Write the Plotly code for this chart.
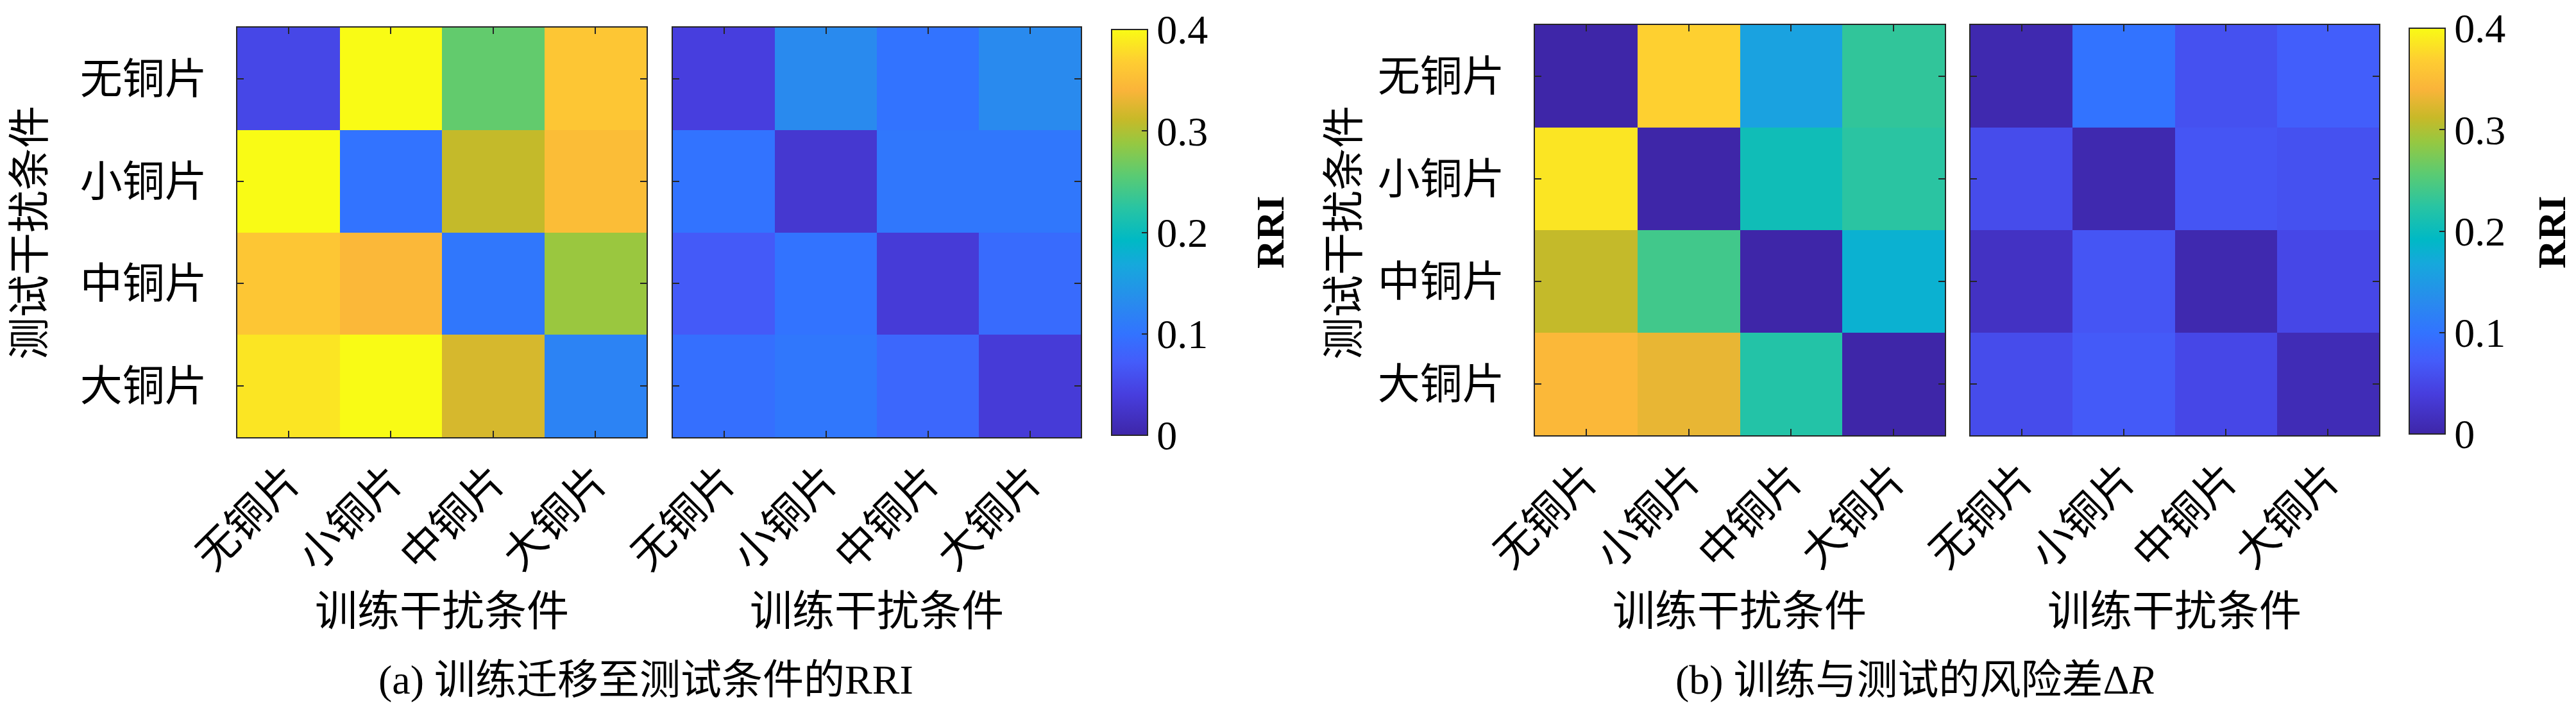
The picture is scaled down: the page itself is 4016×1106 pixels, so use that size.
import plotly.graph_objects as go

# categories (test condition on y, training condition on x)
conditions = ["无铜片", "小铜片", "中铜片", "大铜片"]

# (a) RRI, rows = test condition, cols = training condition
rri_left = [
    [0.050, 0.400, 0.260, 0.360],
    [0.400, 0.100, 0.310, 0.350],
    [0.360, 0.345, 0.105, 0.290],
    [0.385, 0.400, 0.320, 0.120],
]
rri_right = [
    [0.040, 0.130, 0.100, 0.130],
    [0.100, 0.030, 0.105, 0.105],
    [0.070, 0.100, 0.035, 0.090],
    [0.095, 0.105, 0.085, 0.035],
]

# (b) risk difference, same layout
dr_left = [
    [0.000, 0.370, 0.160, 0.230],
    [0.385, 0.000, 0.205, 0.225],
    [0.310, 0.240, 0.000, 0.180],
    [0.345, 0.330, 0.220, 0.000],
]
dr_right = [
    [0.005, 0.100, 0.060, 0.075],
    [0.055, 0.005, 0.065, 0.060],
    [0.020, 0.065, 0.005, 0.050],
    [0.055, 0.070, 0.050, 0.010],
]

cbar_ticks = [0, 0.1, 0.2, 0.3, 0.4]
cbar_text = ["0", "0.1", "0.2", "0.3", "0.4"]

# MATLAB parula (approximation)
parula = [
    [0.00, "rgb(62,38,168)"],
    [0.10, "rgb(71,62,222)"],
    [0.18, "rgb(68,92,250)"],
    [0.25, "rgb(50,115,255)"],
    [0.33, "rgb(40,140,237)"],
    [0.42, "rgb(22,168,220)"],
    [0.48, "rgb(0,185,197)"],
    [0.56, "rgb(40,196,163)"],
    [0.64, "rgb(90,203,115)"],
    [0.72, "rgb(150,200,65)"],
    [0.78, "rgb(200,185,40)"],
    [0.85, "rgb(250,180,58)"],
    [0.92, "rgb(254,205,50)"],
    [1.00, "rgb(249,251,21)"],
]

W, H = 4016, 1106
FONT = "Liberation Serif, Noto Sans CJK SC"
AXC = "#262626"


def px(x):
    return x / W


def py(y):
    return 1 - y / H


fig = go.Figure()

panels = [
    (rri_left, "x", "y", "coloraxis"),
    (rri_right, "x2", "y2", "coloraxis"),
    (dr_left, "x3", "y3", "coloraxis2"),
    (dr_right, "x4", "y4", "coloraxis2"),
]
for z, xa, ya, ca in panels:
    fig.add_trace(
        go.Heatmap(z=z, x=conditions, y=conditions, xaxis=xa, yaxis=ya, coloraxis=ca)
    )

# axis boxes in pixels: (left, right, top, bottom)
boxes = [
    (362, 1000, 35, 674),
    (1041, 1677, 35, 674),
    (2385, 3024, 31, 671),
    (3064, 3701, 31, 671),
]

common = dict(
    showline=True,
    linecolor=AXC,
    linewidth=2,
    mirror="ticks",
    ticks="inside",
    ticklen=10,
    tickwidth=2,
    tickcolor=AXC,
    showgrid=False,
    zeroline=False,
    automargin=False,
    tickfont=dict(family=FONT, size=66, color="black"),
)

layout_axes = {}
for i, (l, r, t, b) in enumerate(boxes):
    sfx = "" if i == 0 else str(i + 1)
    layout_axes["xaxis" + sfx] = dict(
        domain=[px(l), px(r)],
        anchor="y" + sfx,
        tickangle=-45,
        ticklabelstandoff=0,
        **common,
    )
    layout_axes["yaxis" + sfx] = dict(
        domain=[py(b), py(t)],
        anchor="x" + sfx,
        autorange="reversed",
        showticklabels=(i % 2 == 0),
        ticklabelstandoff=32,
        **common,
    )

fig.update_layout(**layout_axes)


def cbar(x_left, top):
    return dict(
        x=px(x_left),
        xanchor="left",
        y=py(top),
        yanchor="top",
        thickness=56,
        thicknessmode="pixels",
        len=653,
        lenmode="pixels",
        outlinewidth=2,
        outlinecolor=AXC,
        ticks="inside",
        ticklen=10,
        tickwidth=2,
        tickcolor=AXC,
        tickvals=cbar_ticks,
        ticktext=cbar_text,
        ticklabeloverflow="allow",
        tickfont=dict(family=FONT, size=64, color="black"),
    )


fig.update_layout(
    coloraxis=dict(colorscale=parula, cmin=0, cmax=0.4, colorbar=cbar(1715, 28)),
    coloraxis2=dict(colorscale=parula, cmin=0, cmax=0.4, colorbar=cbar(3738, 26)),
)

# axis titles, colorbar titles and captions
tfont = dict(family=FONT, size=66, color="black")
annotations = []
for cx in [681, 1359, 2704, 3382]:
    annotations.append(
        dict(text="训练干扰条件", x=px(cx), y=py(945), xref="paper", yref="paper",
             showarrow=False, font=tfont, xanchor="center", yanchor="middle")
    )
for cx in [38, 2087]:
    annotations.append(
        dict(text="测试干扰条件", x=px(cx), y=py(355), xref="paper", yref="paper",
             showarrow=False, font=tfont, textangle=-90,
             xanchor="center", yanchor="middle")
    )
for cx in [1972, 3970]:
    annotations.append(
        dict(text="<b>RRI</b>", x=px(cx), y=py(354), xref="paper", yref="paper",
             showarrow=False, font=dict(family=FONT, size=62, color="black"),
             textangle=-90, xanchor="center", yanchor="middle")
    )
annotations.append(
    dict(text="(a) 训练迁移至测试条件的RRI", x=px(999), y=py(1052), xref="paper",
         yref="paper", showarrow=False, font=dict(family=FONT, size=64, color="black"),
         xanchor="center", yanchor="middle")
)
annotations.append(
    dict(text="(b) 训练与测试的风险差Δ<i>R</i>", x=px(2977), y=py(1052), xref="paper",
         yref="paper", showarrow=False, font=dict(family=FONT, size=64, color="black"),
         xanchor="center", yanchor="middle")
)

fig.update_layout(
    width=W,
    height=H,
    autosize=False,
    margin=dict(l=0, r=0, t=0, b=0),
    paper_bgcolor="white",
    plot_bgcolor="white",
    annotations=annotations,
)

fig.write_html("out.html")
